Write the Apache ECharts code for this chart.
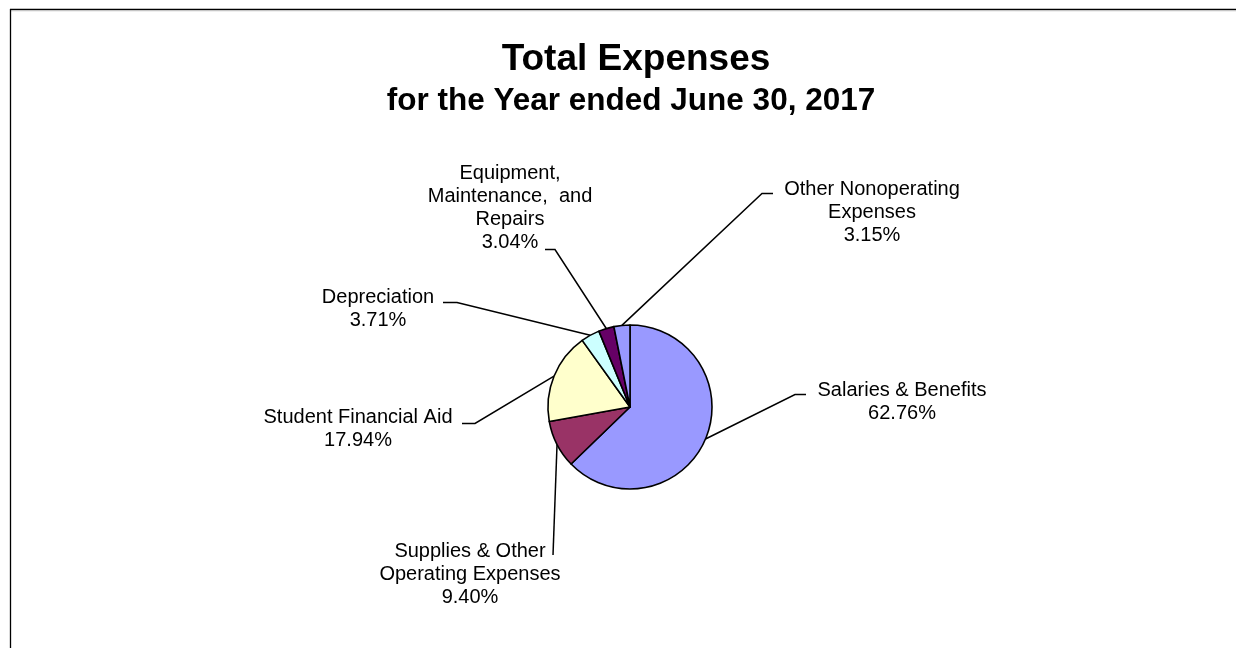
<!DOCTYPE html>
<html><head><meta charset="utf-8">
<script src="https://cdn.jsdelivr.net/npm/echarts@6/dist/echarts.min.js"></script>
<style>html,body{margin:0;padding:0;background:#fff}#c{width:1236px;height:648px}</style>
</head><body><div id="c"></div>
<script>
const titleText = 'Total Expenses';
const subtitleText = 'for the Year ended June 30, 2017';
const categories = ['Salaries & Benefits', 'Supplies & Other\nOperating Expenses', 'Student Financial Aid', 'Depreciation', 'Equipment,\nMaintenance,  and\nRepairs', 'Other Nonoperating\nExpenses'];
const values = [62.76, 9.40, 17.94, 3.71, 3.04, 3.15];
const colors = ['#9999FF', '#993366', '#FFFFCC', '#CCFFFF', '#660066', '#9999FF'];
// label block centre, leader elbow, leader attach point
const labelPos = [
  {x: 902, y: 402, e: [795, 394.5], a: [806, 394.5]},
  {x: 470, y: 574, e: [553, 555], a: [553, 555]},
  {x: 358, y: 429, e: [475, 423.5], a: [462, 423.5]},
  {x: 378, y: 309, e: [457, 302.5], a: [443, 302.5]},
  {x: 510, y: 208, e: [555, 249.5], a: [545, 249.5]},
  {x: 872, y: 212, e: [762, 193.5], a: [773, 193.5]}
];
const FONT = '"Liberation Sans", Arial, sans-serif';
const chart = echarts.init(document.getElementById('c'), null, {renderer: 'canvas'});
chart.setOption({
  animation: false,
  backgroundColor: '#ffffff',
  graphic: [
    {type: 'line', shape: {x1: 10, y1: 9.5, x2: 1236, y2: 9.5}, style: {stroke: '#000', lineWidth: 1.3}, silent: true},
    {type: 'line', shape: {x1: 11, y1: 10.8, x2: 1236, y2: 10.8}, style: {stroke: '#c8c8c8', lineWidth: 1}, silent: true},
    {type: 'line', shape: {x1: 10.5, y1: 9, x2: 10.5, y2: 648}, style: {stroke: '#000', lineWidth: 1.3}, silent: true},
    {type: 'text', x: 636, y: 60, style: {text: titleText, font: 'bold 37px ' + FONT, fill: '#000', align: 'center', verticalAlign: 'middle'}, silent: true},
    {type: 'text', x: 631, y: 101, style: {text: subtitleText, font: 'bold 31.5px ' + FONT, fill: '#000', align: 'center', verticalAlign: 'middle'}, silent: true}
  ],
  series: [{
    type: 'pie',
    center: [630, 407],
    radius: 82,
    startAngle: 90,
    clockwise: true,
    avoidLabelOverlap: false,
    silent: true,
    emphasis: {disabled: true},
    data: categories.map((n, i) => ({name: n, value: values[i], itemStyle: {color: colors[i]}})),
    itemStyle: {borderColor: '#000', borderWidth: 1.6},
    label: {
      show: true,
      position: 'outside',
      formatter: p => p.name + '\n' + p.percent.toFixed(2) + '%',
      fontFamily: FONT,
      fontSize: 20,
      lineHeight: 23,
      color: '#000'
    },
    labelLine: {show: true, length: 20, length2: 10, smooth: false, lineStyle: {color: '#000', width: 1.5}},
    labelLayout: function (params) {
      const L = labelPos[params.dataIndex];
      const out = {x: L.x, y: L.y, align: 'center', verticalAlign: 'middle'};
      if (params.labelLinePoints && params.labelLinePoints[0]) {
        out.labelLinePoints = [params.labelLinePoints[0], L.e, L.a];
      }
      return out;
    }
  }]
});
</script></body></html>
